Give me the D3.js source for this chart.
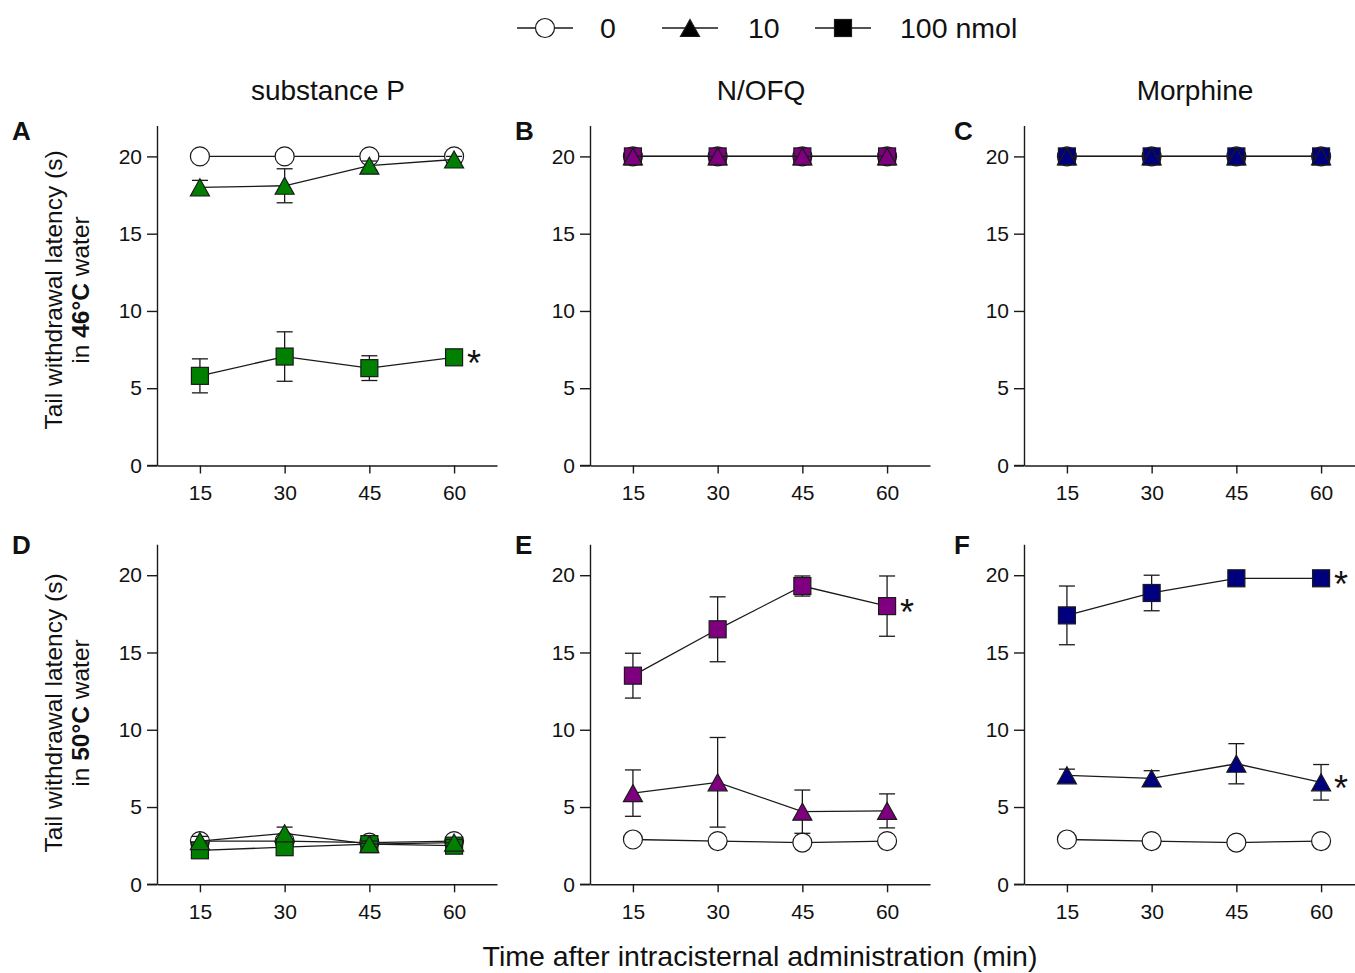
<!DOCTYPE html>
<html>
<head>
<meta charset="utf-8">
<script src="https://cdn.jsdelivr.net/npm/d3@7"></script>
<style>
  body { margin: 0; background: #fff; }
  text { font-family: "Liberation Sans", Arial, sans-serif; fill: #111; }
</style>
</head>
<body>
<svg id="fig" width="1355" height="973"></svg>
<script>
const times = [15, 30, 45, 60];
const yTicks = [0, 5, 10, 15, 20];
const doseLabels = ["0", "10", "100 nmol"];
const drugNames = ["substance P", "N/OFQ", "Morphine"];
const temps = ["46°C", "50°C"];
const panelLetters = ["A", "B", "C", "D", "E", "F"];
const drugColors = ["#007f00", "#7f007f", "#00007f"];

// rows = dose 0 / 10 / 100 nmol, columns = 15, 30, 45, 60 min
const meanA = [[20, 20, 20, 20], [18.0, 18.1, 19.4, 19.8], [5.8, 7.05, 6.3, 7.0]];
const semA  = [[0, 0, 0, 0], [0.45, 1.1, 0.3, 0.2], [1.1, 1.6, 0.8, 0.15]];
const meanB = [[20, 20, 20, 20], [20, 20, 20, 20], [20, 20, 20, 20]];
const semB  = [[0, 0, 0, 0], [0, 0, 0, 0], [0, 0, 0, 0]];
const meanC = [[20, 20, 20, 20], [20, 20, 20, 20], [20, 20, 20, 20]];
const semC  = [[0, 0, 0, 0], [0, 0, 0, 0], [0, 0, 0, 0]];
const meanD = [[2.8, 2.8, 2.7, 2.8], [2.8, 3.3, 2.6, 2.7], [2.2, 2.4, 2.6, 2.5]];
const semD  = [[0.2, 0.2, 0.2, 0.2], [0.3, 0.4, 0.2, 0.2], [0.2, 0.3, 0.2, 0.2]];
const meanE = [[2.9, 2.8, 2.7, 2.8], [5.9, 6.6, 4.7, 4.75], [13.5, 16.5, 19.3, 18.0]];
const semE  = [[0.1, 0.1, 0.1, 0.1], [1.5, 2.9, 1.4, 1.1], [1.45, 2.1, 0.65, 1.95]];
const meanF = [[2.9, 2.8, 2.7, 2.8], [7.05, 6.85, 7.8, 6.6], [17.4, 18.85, 19.8, 19.8]];
const semF  = [[0.1, 0.1, 0.1, 0.1], [0.4, 0.5, 1.3, 1.15], [1.9, 1.15, 0.1, 0.1]];
// doses marked * at the last time point
const starsA = [2], starsB = [], starsC = [], starsD = [], starsE = [2], starsF = [1, 2];

const panels = [
  { mean: meanA, sem: semA, stars: starsA },
  { mean: meanB, sem: semB, stars: starsB },
  { mean: meanC, sem: semC, stars: starsC },
  { mean: meanD, sem: semD, stars: starsD },
  { mean: meanE, sem: semE, stars: starsE },
  { mean: meanF, sem: semF, stars: starsF }
];

const svg = d3.select("#fig");
const ink = "#1a1a1a";
const colX = [157, 590, 1024];   // y axis position for each column
const rowY = [465.5, 884.3];     // x axis position for each row
const plotW = 340, plotH = 340;

function drawMarker(g, dose, cx, cy, color) {
  if (dose === 0) {
    g.append("circle").attr("cx", cx).attr("cy", cy).attr("r", 9.5)
      .attr("fill", "#fff").attr("stroke", ink).attr("stroke-width", 1.2);
  } else if (dose === 1) {
    const w = 19, h = 17;
    g.append("path")
      .attr("d", `M${cx},${cy - h / 2}L${cx + w / 2},${cy + h / 2}L${cx - w / 2},${cy + h / 2}Z`)
      .attr("fill", color).attr("stroke", ink).attr("stroke-width", 1.2);
  } else {
    const s = 17;
    g.append("rect").attr("x", cx - s / 2).attr("y", cy - s / 2).attr("width", s).attr("height", s)
      .attr("fill", color).attr("stroke", ink).attr("stroke-width", 1.2);
  }
}

panels.forEach((p, i) => {
  const col = i % 3, row = Math.floor(i / 3);
  const ax = colX[col], ay = rowY[row];
  const color = drugColors[col];

  const x = d3.scaleLinear().domain([7.4, 67.6]).range([ax, ax + plotW]);
  const y = d3.scaleLinear().domain([0, 22]).range([ay, ay - plotH]);

  const g = svg.append("g");

  // axes
  const xAxis = g.append("g").attr("transform", `translate(0,${ay})`)
    .call(d3.axisBottom(x).tickValues(times).tickSize(8).tickSizeOuter(0).tickPadding(12));
  const yAxis = g.append("g").attr("transform", `translate(${ax},0)`)
    .call(d3.axisLeft(y).tickValues(yTicks).tickSize(10).tickSizeOuter(0).tickPadding(5));
  [xAxis, yAxis].forEach(a => {
    a.selectAll("path, line").attr("stroke", ink).attr("stroke-width", 1.4);
    a.selectAll("text").attr("font-size", 21).attr("fill", ink)
      .style("font-family", '"Liberation Sans", Arial, sans-serif');
  });
  // x axis sticks out a little to the left of the y axis
  g.append("line").attr("x1", ax - 10).attr("x2", ax).attr("y1", ay).attr("y2", ay)
    .attr("stroke", ink).attr("stroke-width", 1.4);

  // panel letter
  svg.append("text").attr("x", col === 0 ? 12 : (col === 1 ? 515 : 954))
    .attr("y", row === 0 ? 140 : 554)
    .attr("font-size", 26).attr("font-weight", "bold").text(panelLetters[i]);

  const line = d3.line().x((d, k) => x(times[k])).y(d => y(d));
  const order = [0, 2, 1];
  order.forEach(dose => {
    const m = p.mean[dose], s = p.sem[dose];
    const sg = g.append("g");
    // error bars
    m.forEach((v, k) => {
      if (s[k] <= 0) return;
      const cx = x(times[k]);
      sg.append("line").attr("x1", cx).attr("x2", cx).attr("y1", y(v - s[k])).attr("y2", y(v + s[k]))
        .attr("stroke", ink).attr("stroke-width", 1.3);
      [v - s[k], v + s[k]].forEach(e => {
        sg.append("line").attr("x1", cx - 8).attr("x2", cx + 8).attr("y1", y(e)).attr("y2", y(e))
          .attr("stroke", ink).attr("stroke-width", 1.3);
      });
    });
    sg.append("path").datum(m).attr("d", line)
      .attr("fill", "none").attr("stroke", ink).attr("stroke-width", 1.3);
    m.forEach((v, k) => drawMarker(sg, dose, x(times[k]), y(v), color));
    if (p.stars.includes(dose)) {
      sg.append("text").attr("x", x(times[3]) + 13).attr("y", y(m[3]) + 19)
        .attr("font-size", 36).attr("fill", ink).text("*");
    }
  });
});

// column titles
drugNames.forEach((name, c) => {
  svg.append("text").attr("x", colX[c] + 171).attr("y", 100)
    .attr("text-anchor", "middle").attr("font-size", 28).text(name);
});

// y axis titles
temps.forEach((t, r) => {
  const cy = r === 0 ? 290 : 713;
  svg.append("text").attr("transform", `translate(62,${cy}) rotate(-90)`)
    .attr("text-anchor", "middle").attr("font-size", 24.5).text("Tail withdrawal latency (s)");
  const t2 = svg.append("text").attr("transform", `translate(89,${cy}) rotate(-90)`)
    .attr("text-anchor", "middle").attr("font-size", 24.5);
  t2.append("tspan").text("in ");
  t2.append("tspan").attr("font-weight", "bold").text(t);
  t2.append("tspan").text(" water");
});

// x axis title
svg.append("text").attr("x", 760).attr("y", 966).attr("text-anchor", "middle")
  .attr("font-size", 28.5).text("Time after intracisternal administration (min)");

// legend
const legendX = [545, 690, 843];
const legendTextX = [600, 748, 900];
const lg = svg.append("g");
doseLabels.forEach((lab, d) => {
  lg.append("line").attr("x1", legendX[d] - 28).attr("x2", legendX[d] + 28)
    .attr("y1", 28).attr("y2", 28).attr("stroke", ink).attr("stroke-width", 1.3);
  drawMarker(lg, d, legendX[d], 28, "#000");
  lg.append("text").attr("x", legendTextX[d]).attr("y", 38).attr("font-size", 28.5).text(lab);
});
</script>
</body>
</html>
